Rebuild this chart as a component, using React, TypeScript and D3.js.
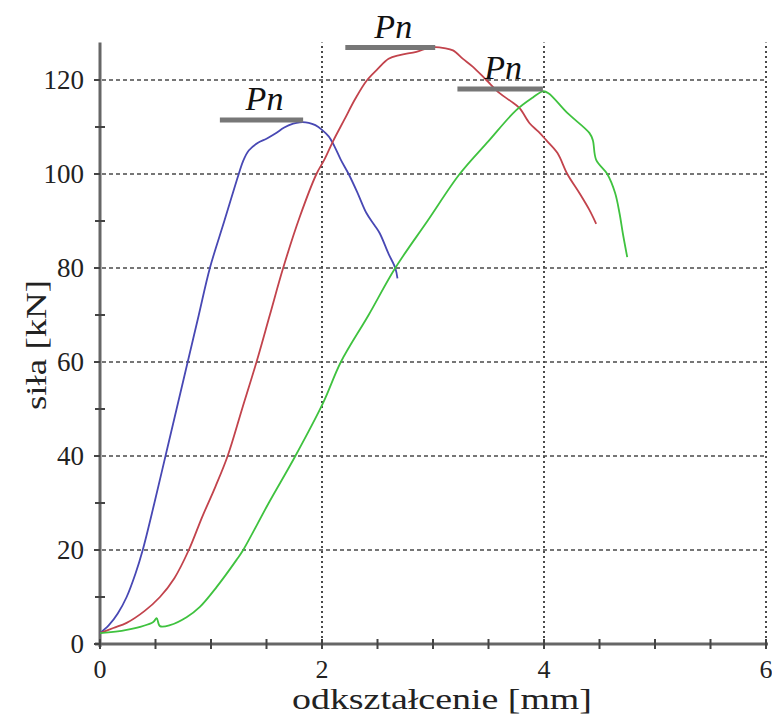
import React from "react";
import * as d3 from "d3";

const blueCurve: [number, number][] = [
  [0, 2.3], [0.08, 4], [0.16, 6.5], [0.24, 10], [0.32, 15], [0.385, 20], [0.49, 30], [0.59, 40],
  [0.69, 50], [0.79, 60], [0.89, 70], [0.99, 80], [1.12, 90], [1.25, 100], [1.29, 102.8], [1.34, 105],
  [1.42, 106.6], [1.5, 107.5], [1.58, 108.6], [1.66, 109.9], [1.74, 110.7], [1.8, 111], [1.88, 110.9], [1.94, 110.4],
  [2.0, 109.4], [2.06, 108], [2.11, 106], [2.17, 103], [2.24, 100], [2.32, 96], [2.4, 91.7], [2.47, 89.2], [2.52, 87.4],
  [2.6, 83], [2.66, 80], [2.68, 77.8],
];

const redCurve: [number, number][] = [
  [0, 2.3], [0.12, 3.4], [0.24, 4.5], [0.4, 7], [0.54, 10], [0.67, 14], [0.8, 20], [0.92, 27],
  [1.04, 33.5], [1.15, 40], [1.28, 50], [1.41, 60], [1.53, 70], [1.65, 80], [1.8, 90.9], [1.95, 100],
  [2.02, 103], [2.1, 107], [2.2, 111.5], [2.3, 116], [2.4, 119.8], [2.5, 122.3], [2.6, 124.5],
  [2.7, 125.3], [2.85, 126], [2.95, 126.8], [3.02, 127], [3.1, 126.8], [3.18, 126.3], [3.27, 124.5],
  [3.36, 122.8], [3.48, 120], [3.6, 117.2], [3.7, 115.5], [3.78, 114], [3.87, 110.8], [3.95, 109],
  [4.02, 107.2], [4.12, 104.5], [4.21, 100], [4.32, 95.9], [4.41, 92.3], [4.47, 89.4],
];

const greenCurve: [number, number][] = [
  [0, 2.3], [0.24, 3], [0.48, 4.7], [0.51, 5.5], [0.54, 3.8], [0.63, 4], [0.78, 5.7], [0.9, 7.9],
  [1.05, 12.1], [1.23, 17.9], [1.29, 20], [1.52, 30], [1.76, 40], [2.01, 51.3], [2.17, 60],
  [2.42, 70], [2.66, 80], [2.95, 90], [3.24, 100], [3.5, 107], [3.75, 113.6], [3.9, 116.3],
  [3.99, 117.6], [4.04, 117.2], [4.21, 113], [4.41, 108.7], [4.44, 107.2], [4.47, 103], [4.57, 100],
  [4.64, 96], [4.68, 91.7], [4.71, 87.4], [4.75, 82.3],
];

// Pn marker bars: [x start, x end, force]
const pnBars: [number, number, number][] = [
  [1.08, 1.83, 111.5],
  [2.21, 3.02, 126.9],
  [3.22, 3.99, 118.1],
];

const xMajorTicks = [0, 2, 4, 6];
const xMinorTicks = d3.range(0, 6.01, 0.5);
const yMajorTicks = [0, 20, 40, 60, 80, 100, 120];
const yMinorTicks = d3.range(10, 121, 20);

const series = [
  { data: blueCurve, color: "#4848b4" },
  { data: redCurve, color: "#c2434c" },
  { data: greenCurve, color: "#3fc23f" },
];

const serif = { fontFamily: "Liberation Serif" };

export default function App() {
  const x = d3.scaleLinear().domain([0, 6]).range([100, 766]);
  const y = d3.scaleLinear().domain([0, 128]).range([644, 644 - 128 * 4.7]);
  const line = d3
    .line<[number, number]>()
    .x((d) => x(d[0]))
    .y((d) => y(d[1]))
    .curve(d3.curveCatmullRom.alpha(0.5));
  const axisColor = "#666";
  const gridColor = "#4a4a4a";
  const yTop = y(128);

  return (
    <svg
      width={772}
      height={724}
      style={{ position: "absolute", left: 0, top: 0, background: "#fff" }}
    >
      {/* horizontal grid */}
      {yMajorTicks.filter((t) => t > 0).map((t) => (
        <line
          key={"hg" + t}
          x1={95}
          x2={x(6)}
          y1={y(t)}
          y2={y(t)}
          stroke={gridColor}
          strokeWidth={1.6}
          strokeDasharray="4,3"
        />
      ))}
      {/* vertical grid */}
      {xMajorTicks.filter((t) => t > 0).map((t) => (
        <line
          key={"vg" + t}
          x1={x(t)}
          x2={x(t)}
          y1={y(0) + 4}
          y2={yTop}
          stroke={gridColor}
          strokeWidth={2}
          strokeDasharray="2,3"
        />
      ))}
      {/* axes */}
      <line x1={x(0)} x2={x(0)} y1={yTop} y2={y(0) + 3} stroke={axisColor} strokeWidth={3} />
      <line x1={x(0) - 5} x2={x(6) + 2} y1={y(0)} y2={y(0)} stroke={axisColor} strokeWidth={3} />
      {xMinorTicks.map((t) => (
        <line key={"xt" + t} x1={x(t)} x2={x(t)} y1={y(0) - 5} y2={y(0) + 5} stroke="#444" strokeWidth={2} />
      ))}
      {yMinorTicks.map((t) => (
        <line key={"yt" + t} x1={x(0) - 5} x2={x(0) + 5} y1={y(t)} y2={y(t)} stroke="#444" strokeWidth={2} />
      ))}
      {yMajorTicks.map((t) => (
        <line key={"ytm" + t} x1={x(0) - 6} x2={x(0)} y1={y(t)} y2={y(t)} stroke="#444" strokeWidth={2} />
      ))}
      {/* tick labels */}
      {xMajorTicks.map((t) => (
        <text key={"xl" + t} x={x(t)} y={678} fontSize={26} textAnchor="middle" fill="#222" style={serif}>
          {t}
        </text>
      ))}
      {yMajorTicks.map((t) => (
        <text
          key={"yl" + t}
          x={84}
          y={y(t)}
          fontSize={27}
          textAnchor="end"
          dominantBaseline="central"
          fill="#222"
          style={serif}
        >
          {t}
        </text>
      ))}
      {/* curves */}
      {series.map((s, i) => (
        <path key={"s" + i} d={line(s.data) || ""} fill="none" stroke={s.color} strokeWidth={1.8} strokeLinejoin="round" />
      ))}
      {/* Pn markers */}
      {pnBars.map((b, i) => (
        <g key={"pn" + i}>
          <line x1={x(b[0])} x2={x(b[1])} y1={y(b[2])} y2={y(b[2])} stroke="#777" strokeWidth={5} />
          <text
            x={(x(b[0]) + x(b[1])) / 2 + 3}
            y={y(b[2]) - 10}
            fontSize={34}
            fontStyle="italic"
            textAnchor="middle"
            fill="#111"
            style={serif}
          >
            Pn
          </text>
        </g>
      ))}
      {/* axis titles */}
      <text
        x={442}
        y={709}
        fontSize={30}
        textAnchor="middle"
        fill="#222"
        textLength={300}
        lengthAdjust="spacingAndGlyphs"
        style={serif}
      >
        odkształcenie [mm]
      </text>
      <text
        transform="translate(46,345) rotate(-90)"
        fontSize={29}
        textAnchor="middle"
        fill="#222"
        textLength={130}
        lengthAdjust="spacingAndGlyphs"
        style={serif}
      >
        siła [kN]
      </text>
    </svg>
  );
}
